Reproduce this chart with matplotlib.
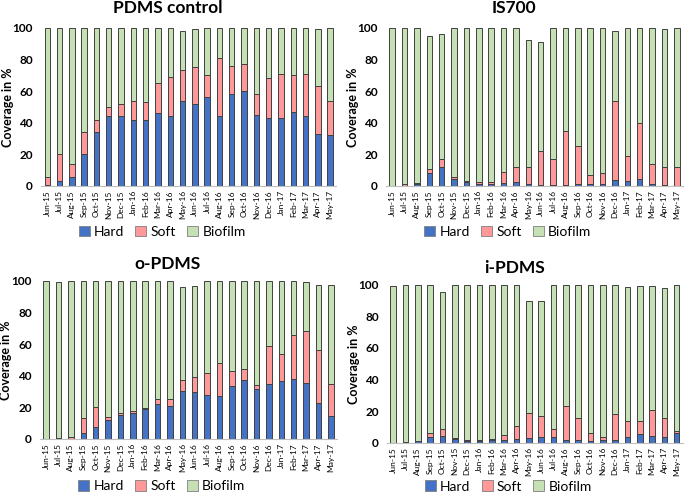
import matplotlib
matplotlib.use("Agg")
import matplotlib.pyplot as plt
import numpy as np

plt.rcParams["font.family"] = ["Lato", "DejaVu Sans"]

months = ["Jun-15", "Jul-15", "Aug-15", "Sep-15", "Oct-15", "Nov-15", "Dec-15",
          "Jan-16", "Feb-16", "Mar-16", "Apr-16", "May-16", "Jun-16", "Jul-16",
          "Aug-16", "Sep-16", "Oct-16", "Nov-16", "Dec-16", "Jan-17", "Feb-17",
          "Mar-17", "Apr-17", "May-17"]

# PDMS control
pdms_hard = [0.5, 3, 6, 20, 34, 44, 44, 42, 41.5, 46, 44, 54, 52, 56, 44, 58, 60, 45, 43, 43, 47, 44, 33, 32]
pdms_soft = [5.5, 17, 8, 14, 8, 6, 8, 12, 11.5, 19, 25, 19, 23, 14, 37, 18, 17, 13, 25, 28, 23, 27, 30, 22]
pdms_bio = [94, 80, 86, 66, 58, 50, 48, 46, 47, 35, 31, 25, 24, 30, 19, 24, 23, 42, 32, 29, 30, 29, 36.5, 46]

# IS700
is_hard = [0, 0, 1, 8, 12, 4.5, 2.5, 1.5, 1.5, 2, 2.5, 1.5, 0.5, 0.5, 0.5, 1.5, 1, 1, 4, 3, 4.5, 1.5, 0.5, 0]
is_soft = [0, 1, 1, 3, 5, 1, 0.5, 1, 1, 7, 9.5, 10.5, 21.5, 16.5, 34.5, 23.5, 6, 7, 50, 16, 35.5, 12.5, 11.5, 12]
is_bio = [100, 99, 98, 84, 79, 94.5, 97, 97.5, 97.5, 91, 88, 80, 69, 83, 65, 75, 93, 92, 44, 81, 60, 86, 87, 88]

# o-PDMS
o_hard = [0, 0.5, 0, 4, 7.5, 12, 15, 16.5, 19, 22, 21, 30, 29.5, 28, 27, 33.5, 37, 31.5, 35, 36.5, 38, 35.5, 22.5, 14.5]
o_soft = [0, 0, 1, 9, 12.5, 2, 1.5, 1, 0.5, 3, 4.5, 7.5, 9.5, 13.5, 21, 9.5, 7, 2.5, 24, 17.5, 27.5, 32.5, 34, 20.5]
o_bio = [100, 99, 99, 87, 80, 86, 83.5, 82.5, 80.5, 75, 74.5, 58.5, 57.5, 58.5, 52, 57, 56, 66, 41, 46, 34.5, 31.5, 41, 62]

# i-PDMS
i_hard = [0, 0, 1, 4, 4.5, 2.5, 1.5, 1.5, 2, 2, 2.5, 3, 3.5, 3.5, 2, 2, 1.5, 2, 2, 4, 5.5, 4.5, 4, 6]
i_soft = [0, 0.3, 0.5, 2.5, 4, 0.5, 0.5, 0.5, 0.5, 3, 8.5, 16, 13.5, 5, 21.5, 14, 4.5, 1.5, 16, 10, 8.5, 16, 11.5, 1.5]
i_bio = [99, 99.7, 98.5, 93.5, 87, 97, 98, 98, 97.5, 95, 89, 70.5, 72.5, 91.5, 76.5, 84, 94, 96.5, 82, 84.5, 85, 78.5, 82.5, 92]

# title, data, axes rect, title y, legend y, ylabel x
panels = [
    ("PDMS control", pdms_hard, pdms_soft, pdms_bio, [0.060, 0.625, 0.431, 0.319], 1.127, -0.29, -0.093),
    ("IS700", is_hard, is_soft, is_bio, [0.5635, 0.625, 0.4336, 0.319], 1.127, -0.29, -0.091),
    ("o-PDMS", o_hard, o_soft, o_bio, [0.0584, 0.115, 0.4336, 0.319], 1.108, -0.30, -0.093),
    ("i-PDMS", i_hard, i_soft, i_bio, [0.565, 0.107, 0.432, 0.319], 1.108, -0.275, -0.091),
]

c_hard = "#4472C4"
c_soft = "#FF9999"
c_bio = "#C5E0B4"
edge = "#404040"

fig = plt.figure(figsize=(6.85, 4.96), dpi=100)

for title, hard, soft, bio, pos, ty, ly, yl in panels:
    ax = fig.add_axes(pos)
    x = np.arange(len(months))
    hard = np.array(hard)
    soft = np.array(soft)
    bio = np.array(bio)
    ax.bar(x, hard, 0.44, color=c_hard, edgecolor=edge, linewidth=0.7, label="Hard")
    ax.bar(x, soft, 0.44, bottom=hard, color=c_soft, edgecolor=edge, linewidth=0.7, label="Soft")
    ax.bar(x, bio, 0.44, bottom=hard + soft, color=c_bio, edgecolor=edge, linewidth=0.7, label="Biofilm")
    ax.set_xlim(-0.5, len(months) - 0.5)
    ax.set_ylim(0, 100)
    ax.set_yticks([0, 20, 40, 60, 80, 100])
    ax.set_xticks(x)
    ax.set_xticklabels(months, rotation=90, fontsize=6)
    for lab in ax.get_yticklabels():
        lab.set_fontweight("bold")
        lab.set_fontsize(8.5)
    ax.tick_params(axis="both", length=0)
    ax.tick_params(axis="y", pad=6)
    ax.tick_params(axis="x", pad=3)
    for s in ["top", "right", "left"]:
        ax.spines[s].set_visible(False)
    ax.spines["bottom"].set_color("#bfbfbf")
    ax.set_ylabel("Coverage in %", fontsize=9, fontweight="bold")
    ax.yaxis.set_label_coords(yl, 0.5)
    ax.text(0.43, ty, title, transform=ax.transAxes, ha="center", va="center",
            fontsize=12.5, fontweight="bold")
    leg = ax.legend(loc="center", bbox_to_anchor=(0.41, ly), ncol=3, frameon=False,
                    fontsize=10, handlelength=0.8, handleheight=0.8, handletextpad=0.3,
                    columnspacing=0.8, borderpad=0)
    for h in leg.legend_handles:
        h.set_edgecolor("#7f7f7f")
        h.set_linewidth(0.6)

plt.savefig("out.png", dpi=100)
